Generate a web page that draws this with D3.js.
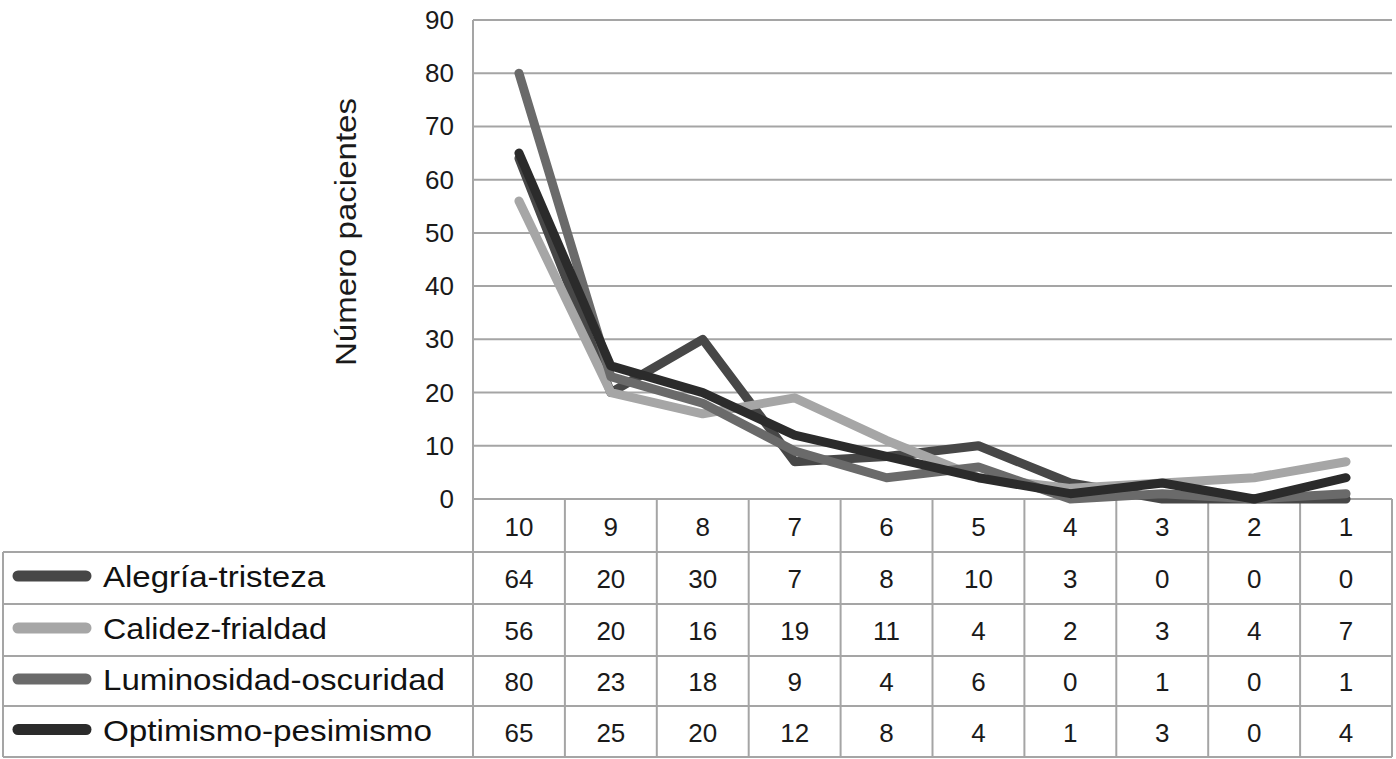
<!DOCTYPE html>
<html>
<head>
<meta charset="utf-8">
<script src="https://cdn.jsdelivr.net/npm/d3@7"></script>
<style>
  body { margin: 0; background: #fff; }
  svg { font-family: "Liberation Sans", Arial, sans-serif; }
</style>
</head>
<body>
<svg id="chart" width="1396" height="759"></svg>
<script>
var categories = ["10", "9", "8", "7", "6", "5", "4", "3", "2", "1"];
var seriesNames = ["Alegría-tristeza", "Calidez-frialdad", "Luminosidad-oscuridad", "Optimismo-pesimismo"];
var alegria = [64, 20, 30, 7, 8, 10, 3, 0, 0, 0];
var calidez = [56, 20, 16, 19, 11, 4, 2, 3, 4, 7];
var luminosidad = [80, 23, 18, 9, 4, 6, 0, 1, 0, 1];
var optimismo = [65, 25, 20, 12, 8, 4, 1, 3, 0, 4];
var yTicks = [0, 10, 20, 30, 40, 50, 60, 70, 80, 90];

(function(){
var seriesValues = [alegria, calidez, luminosidad, optimismo];
var colors = ["#474747", "#a6a6a6", "#6a6a6a", "#2b2b2b"];
var labelWidths = [222, 224, 342, 329];

var svg = d3.select("#chart");
var plotLeft = 473, plotRight = 1392, plotTop = 20, plotBottom = 499;
var rowLines = [499, 552, 604, 656, 706, 757];
var tableLeft = 3;
var gridColor = "#a5a5a5";

var x = d3.scaleBand().domain(categories).range([plotLeft, plotRight]);
var y = d3.scaleLinear().domain([0, 90]).range([plotBottom, plotTop]);

// gridlines
svg.append("g").selectAll("line")
    .data(yTicks)
    .enter().append("line")
    .attr("x1", plotLeft).attr("x2", plotRight)
    .attr("y1", function(d){ return y(d); })
    .attr("y2", function(d){ return y(d); })
    .attr("stroke", gridColor).attr("stroke-width", 2);

// y axis line
svg.append("line")
    .attr("x1", plotLeft).attr("x2", plotLeft)
    .attr("y1", plotTop).attr("y2", rowLines[5])
    .attr("stroke", gridColor).attr("stroke-width", 2);

// y tick labels
svg.append("g").selectAll("text")
    .data(yTicks)
    .enter().append("text")
    .attr("x", 454)
    .attr("y", function(d){ return y(d) + 9; })
    .attr("text-anchor", "end")
    .attr("font-size", "26px")
    .attr("fill", "#1a1a1a")
    .text(function(d){ return d; });

// y axis title
svg.append("text")
    .attr("transform", "translate(356,232) rotate(-90)")
    .attr("text-anchor", "middle")
    .attr("font-size", "30px")
    .attr("textLength", 268)
    .attr("lengthAdjust", "spacingAndGlyphs")
    .attr("fill", "#1a1a1a")
    .text("Número pacientes");

// table horizontal lines
svg.append("g").selectAll("line")
    .data(rowLines.slice(1))
    .enter().append("line")
    .attr("x1", tableLeft).attr("x2", plotRight)
    .attr("y1", function(d){ return d; })
    .attr("y2", function(d){ return d; })
    .attr("stroke", gridColor).attr("stroke-width", 2);

// table vertical lines
svg.append("g").selectAll("line")
    .data(categories)
    .enter().append("line")
    .attr("x1", function(d){ return x(d) + x.bandwidth(); })
    .attr("x2", function(d){ return x(d) + x.bandwidth(); })
    .attr("y1", plotBottom).attr("y2", rowLines[5])
    .attr("stroke", gridColor).attr("stroke-width", 2);

svg.append("line")
    .attr("x1", tableLeft).attr("x2", tableLeft)
    .attr("y1", rowLines[1]).attr("y2", rowLines[5])
    .attr("stroke", gridColor).attr("stroke-width", 2);

// header categories
svg.append("g").selectAll("text")
    .data(categories)
    .enter().append("text")
    .attr("x", function(d){ return x(d) + x.bandwidth() / 2; })
    .attr("y", (rowLines[0] + rowLines[1]) / 2 + 10)
    .attr("text-anchor", "middle")
    .attr("font-size", "26px")
    .attr("fill", "#1a1a1a")
    .text(function(d){ return d; });

// table rows
seriesValues.forEach(function(vals, i){
    var cy = (rowLines[i + 1] + rowLines[i + 2]) / 2;
    var row = svg.append("g");
    row.append("line")
        .attr("x1", 18).attr("x2", 86)
        .attr("y1", cy - 2).attr("y2", cy - 2)
        .attr("stroke", colors[i]).attr("stroke-width", 11)
        .attr("stroke-linecap", "round");
    row.append("text")
        .attr("x", 103).attr("y", cy + 9)
        .attr("font-size", "29px")
        .attr("textLength", labelWidths[i])
        .attr("lengthAdjust", "spacingAndGlyphs")
        .attr("fill", "#111")
        .text(seriesNames[i]);
    row.selectAll("text.v")
        .data(vals)
        .enter().append("text")
        .attr("class", "v")
        .attr("x", function(d, j){ return x(categories[j]) + x.bandwidth() / 2; })
        .attr("y", cy + 10)
        .attr("text-anchor", "middle")
        .attr("font-size", "26px")
        .attr("fill", "#1a1a1a")
        .text(function(d){ return d; });
});

// lines
var line = d3.line()
    .x(function(d, j){ return x(categories[j]) + x.bandwidth() / 2; })
    .y(function(d){ return y(d); });

svg.append("g").selectAll("path")
    .data(seriesValues)
    .enter().append("path")
    .attr("d", line)
    .attr("fill", "none")
    .attr("stroke", function(d, i){ return colors[i]; })
    .attr("stroke-width", 9)
    .attr("stroke-linejoin", "round")
    .attr("stroke-linecap", "round");
})();
</script>
</body>
</html>
